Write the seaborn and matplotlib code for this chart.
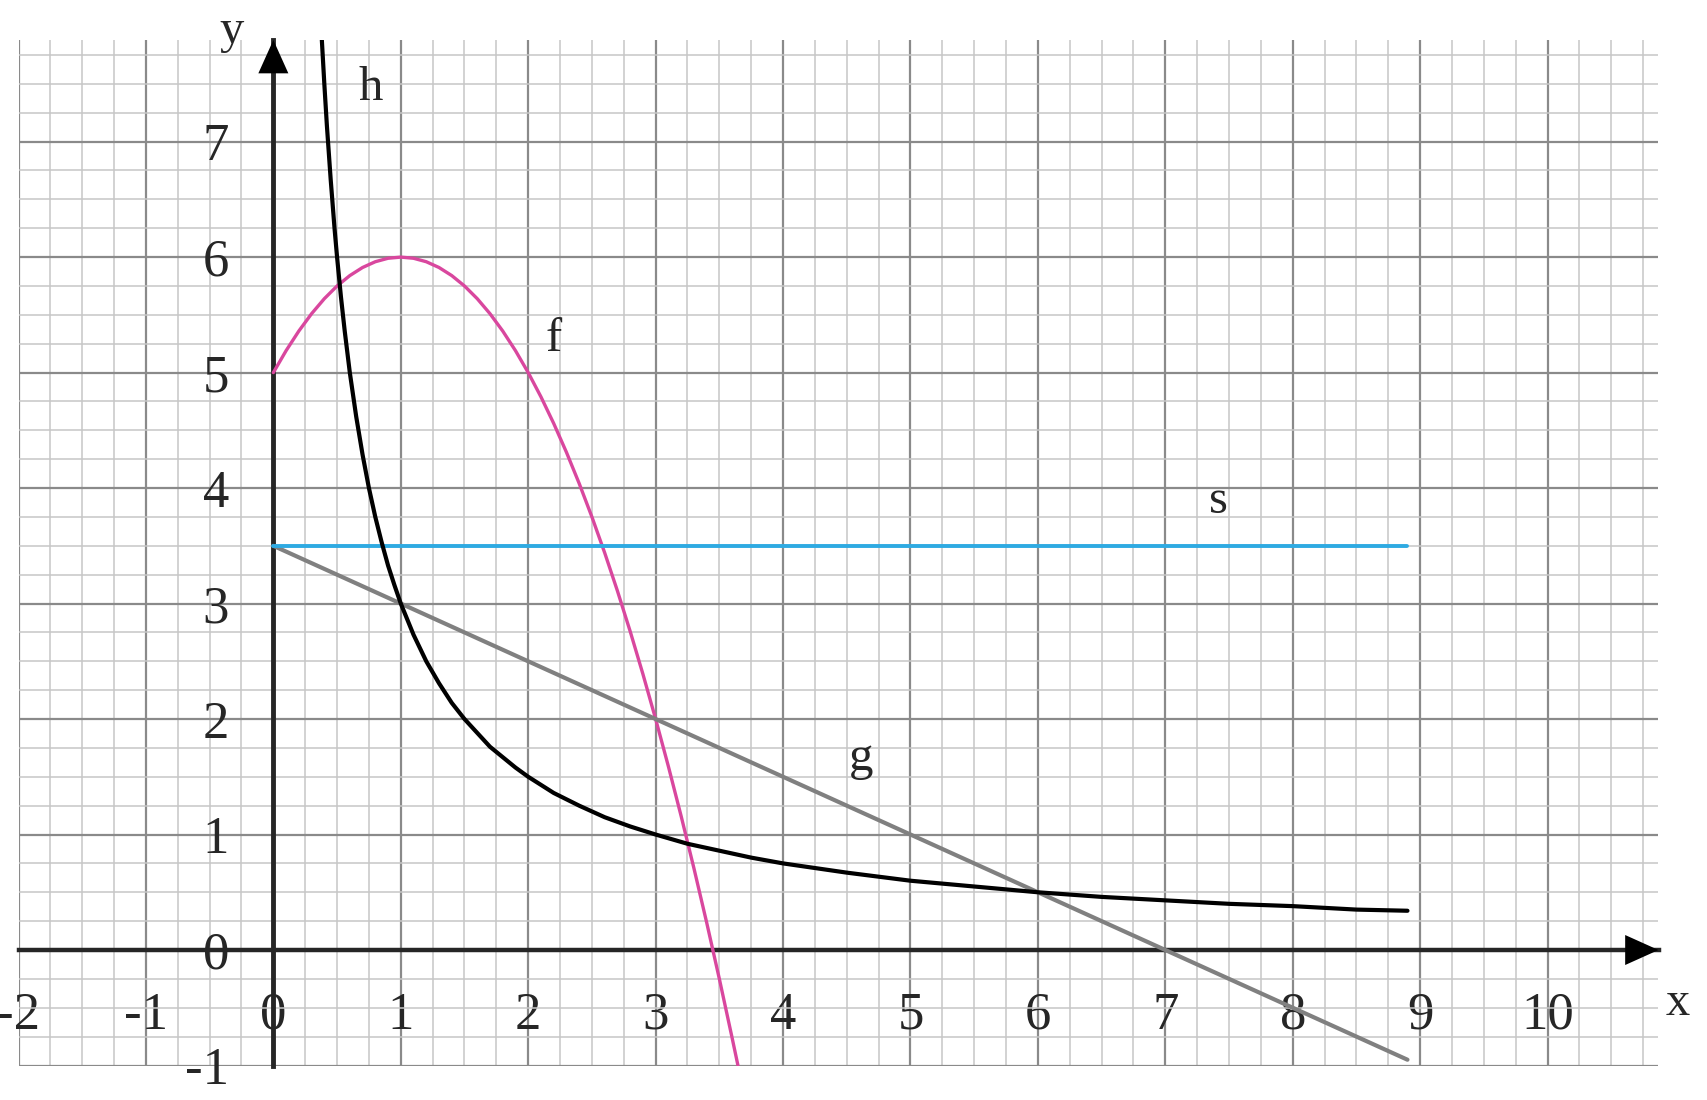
import numpy as np
import matplotlib
matplotlib.use('Agg')
import matplotlib.pyplot as plt
import seaborn as sns

# points
f_x = [0, 0.1, 0.2, 0.3, 0.4, 0.5, 0.6, 0.7, 0.8, 0.9, 1.0, 1.1, 1.2, 1.3, 1.4, 1.5, 1.6, 1.7,
       1.8, 1.9, 2.0, 2.1, 2.2, 2.3, 2.4, 2.5, 2.6, 2.7, 2.8, 2.9, 3.0, 3.1, 3.2, 3.3, 3.4, 3.5,
       3.6, 3.646]
f_y = [5.0, 5.19, 5.36, 5.51, 5.64, 5.75, 5.84, 5.91, 5.96, 5.99, 6.0, 5.99, 5.96, 5.91, 5.84,
       5.75, 5.64, 5.51, 5.36, 5.19, 5.0, 4.79, 4.56, 4.31, 4.04, 3.75, 3.44, 3.11, 2.76, 2.39,
       2.0, 1.59, 1.16, 0.71, 0.24, -0.25, -0.76, -1.0]

h_x = [0.38, 0.4, 0.42, 0.45, 0.48, 0.5, 0.53, 0.56, 0.6, 0.65, 0.7, 0.75, 0.8, 0.85, 0.9, 0.95,
       1.0, 1.1, 1.2, 1.3, 1.4, 1.5, 1.6, 1.7, 1.8, 1.9, 2.0, 2.2, 2.4, 2.6, 2.8, 3.0, 3.25, 3.5,
       3.75, 4.0, 4.5, 5.0, 5.5, 6.0, 6.5, 7.0, 7.5, 8.0, 8.5, 8.9]
h_y = [7.89, 7.5, 7.14, 6.67, 6.25, 6.0, 5.66, 5.36, 5.0, 4.62, 4.29, 4.0, 3.75, 3.53, 3.33, 3.16,
       3.0, 2.73, 2.5, 2.31, 2.14, 2.0, 1.88, 1.76, 1.67, 1.58, 1.5, 1.36, 1.25, 1.15, 1.07, 1.0,
       0.92, 0.86, 0.8, 0.75, 0.67, 0.6, 0.55, 0.5, 0.46, 0.43, 0.4, 0.38, 0.35, 0.34]

g_x = [0, 8.9]
g_y = [3.5, -0.95]

s_x = [0, 8.9]
s_y = [3.5, 3.5]

x_ticks = list(range(-2, 11))
y_ticks = list(range(-1, 8))

labels = {'h': (0.76, 7.36), 'f': (2.2, 5.19), 's': (7.42, 3.78), 'g': (4.61, 1.56)}

sns.set_style('white')
plt.rcParams['font.family'] = ['Liberation Serif', 'DejaVu Serif']
plt.rcParams['axes.unicode_minus'] = False

fig = plt.figure(figsize=(17.07, 11), dpi=100)
ax = fig.add_axes([18.5 / 1707, 34.5 / 1100, 1640 / 1707, 1025.5 / 1100])
ax.set_xlim(-2, 10.87)
ax.set_ylim(-1, 7.88)

# grid paper
ax.set_xticks(x_ticks)
ax.set_yticks(y_ticks)
ax.set_xticks(np.arange(-2, 10.9, 0.25), minor=True)
ax.set_yticks(np.arange(-1, 7.9, 0.25), minor=True)
ax.grid(which='minor', color='#c6c6c6', lw=1.1, zorder=0)
ax.grid(which='major', color='#8a8a8a', lw=1.6, zorder=0)
ax.set_axisbelow(True)

# axes through the origin
for side in ['top', 'right']:
    ax.spines[side].set_visible(False)
ax.spines['bottom'].set_position(('data', 0))
ax.spines['left'].set_position(('data', 0))
ax.spines['bottom'].set_linewidth(3.2)
ax.spines['left'].set_linewidth(3.5)
ax.tick_params(which='major', direction='out', length=11, width=3.2, labelsize=38)
ax.tick_params(which='minor', length=0)
ax.tick_params(axis='x', pad=19)
ax.tick_params(axis='y', pad=21)
ax.annotate('', xy=(10.87, 0), xytext=(10.6, 0),
            arrowprops=dict(arrowstyle='-|>,head_length=1.0,head_width=0.45', color='black',
                            lw=0, mutation_scale=24, shrinkA=0, shrinkB=0), annotation_clip=False)
ax.annotate('', xy=(0, 7.88), xytext=(0, 7.6),
            arrowprops=dict(arrowstyle='-|>,head_length=1.0,head_width=0.45', color='black',
                            lw=0, mutation_scale=24, shrinkA=0, shrinkB=0), annotation_clip=False)

# curves
sns.lineplot(x=f_x, y=f_y, ax=ax, color='#d9479e', lw=2.4, estimator=None, sort=False, zorder=3)
sns.lineplot(x=g_x, y=g_y, ax=ax, color='#808080', lw=3.0, estimator=None, sort=False, zorder=3)
sns.lineplot(x=s_x, y=s_y, ax=ax, color='#2eaae2', lw=2.8, estimator=None, sort=False, zorder=3)
sns.lineplot(x=h_x, y=h_y, ax=ax, color='black', lw=3.0, estimator=None, sort=False, zorder=4)

for name, (lx, ly) in labels.items():
    ax.text(lx, ly, name, fontsize=35, ha='center', va='baseline')
ax.text(-0.33, 7.85, 'y', fontsize=35, ha='center', va='baseline', clip_on=False)
ax.text(11.02, -0.56, 'x', fontsize=35, ha='center', va='baseline', clip_on=False)

ax.set_xlabel('')
ax.set_ylabel('')

fig.savefig('out.png', dpi=100)
